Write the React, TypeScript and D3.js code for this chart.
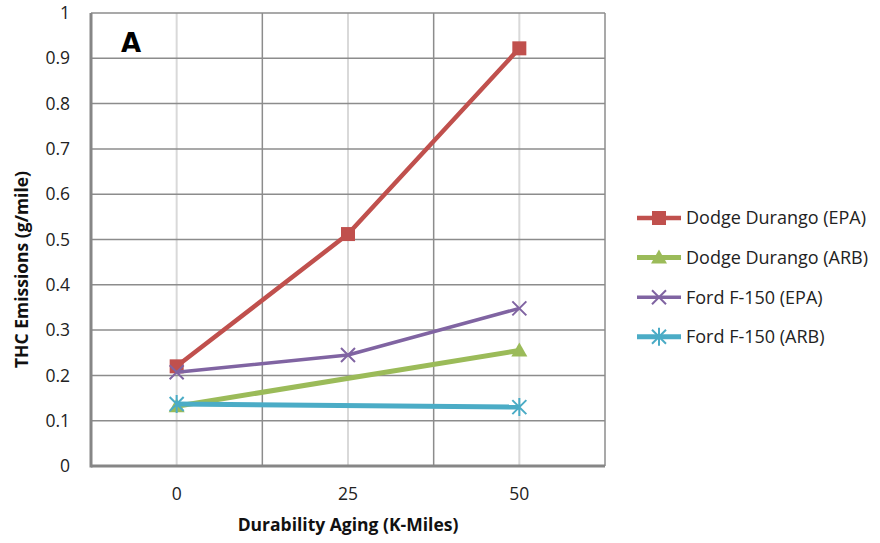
import React from "react";
import * as d3 from "d3";

const categories = ["0", "25", "50"];
const yTicks = [0, 0.1, 0.2, 0.3, 0.4, 0.5, 0.6, 0.7, 0.8, 0.9, 1];
const dodgeEPA: (number | null)[] = [0.22, 0.512, 0.922];
const dodgeARB: (number | null)[] = [0.132, null, 0.255];
const fordEPA: (number | null)[] = [0.207, 0.245, 0.348];
const fordARB: (number | null)[] = [0.137, null, 0.13];
const seriesNames = ["Dodge Durango (EPA)", "Dodge Durango (ARB)", "Ford F-150 (EPA)", "Ford F-150 (ARB)"];

const series = [
  { name: seriesNames[0], values: dodgeEPA, color: "#C0504D", width: 4.5, marker: "square" },
  { name: seriesNames[1], values: dodgeARB, color: "#9BBB59", width: 5, marker: "triangle" },
  { name: seriesNames[2], values: fordEPA, color: "#8064A2", width: 3.5, marker: "x" },
  { name: seriesNames[3], values: fordARB, color: "#4BACC6", width: 5, marker: "star" },
];

const left = 91, right = 605, top = 13, bottom = 466;
const font = "'Open Sans', 'Noto Sans', sans-serif";

function Marker({ type, x, y, color }: { type: string; x: number; y: number; color: string }) {
  if (type === "square") return <rect x={x - 7} y={y - 7} width={14} height={14} fill={color} />;
  if (type === "triangle")
    return <path d={`M${x},${y - 8}L${x + 8},${y + 6}L${x - 8},${y + 6}Z`} fill={color} />;
  if (type === "x")
    return (
      <path d={`M${x - 7},${y - 7}L${x + 7},${y + 7}M${x - 7},${y + 7}L${x + 7},${y - 7}`} stroke={color} strokeWidth={2} />
    );
  return (
    <path
      d={`M${x - 7},${y - 7}L${x + 7},${y + 7}M${x - 7},${y + 7}L${x + 7},${y - 7}M${x},${y - 9}L${x},${y + 9}`}
      stroke={color}
      strokeWidth={2}
    />
  );
}

export default function App() {
  const y = d3.scaleLinear().domain([0, 1]).range([bottom, top]);
  const xb = d3.scaleBand().domain(categories).range([left, right]);
  const xc = (c: string) => (xb(c) as number) + xb.bandwidth() / 2;
  const boundaries = [...categories.map((c) => xb(c) as number), right];

  return (
    <svg width={880} height={543} style={{ position: "absolute", left: 0, top: 0 }}>
      <rect width={880} height={543} fill="#fff" />
      {categories.map((c) => (
        <line key={"c" + c} x1={xc(c)} x2={xc(c)} y1={top} y2={bottom} stroke="#d9d9d9" strokeWidth={2} />
      ))}
      {boundaries.map((b, i) => (
        <line key={"b" + i} x1={b} x2={b} y1={top} y2={bottom} stroke="#8c8c8c" strokeWidth={1.5} />
      ))}
      {yTicks.map((t) => (
        <line key={"h" + t} x1={left} x2={right} y1={y(t)} y2={y(t)} stroke="#8c8c8c" strokeWidth={1.5} />
      ))}
      <line x1={left} x2={left} y1={top} y2={bottom + 1.5} stroke="#868686" strokeWidth={3} />
      <line x1={left} x2={right} y1={bottom} y2={bottom} stroke="#868686" strokeWidth={3} />
      {yTicks.map((t) => (
        <text key={"yl" + t} x={70} y={y(t)} dy="0.35em" textAnchor="end" fontFamily={font} fontSize={17.5} fill="#222">
          {d3.format("")(t)}
        </text>
      ))}
      {categories.map((c) => (
        <text key={"xl" + c} x={xc(c)} y={494} dy="0.35em" textAnchor="middle" fontFamily={font} fontSize={17.5} fill="#222">
          {c}
        </text>
      ))}
      <text
        transform={`translate(22,${(top + bottom) / 2 + 30}) rotate(-90)`}
        textAnchor="middle"
        dy="0.35em"
        fontFamily={font}
        fontWeight="bold"
        fontSize={17.5}
        fill="#111"
      >
        THC Emissions (g/mile)
      </text>
      <text x={(left + right) / 2} y={525} dy="0.35em" textAnchor="middle" fontFamily={font} fontWeight="bold" fontSize={17.5} fill="#111">
        Durability Aging (K-Miles)
      </text>
      <text x={131} y={43} dy="0.35em" textAnchor="middle" fontFamily="'DejaVu Sans', sans-serif" fontWeight="bold" fontSize={26} fill="#000">
        A
      </text>
      {series.map((s) => {
        const pts = s.values
          .map((v, i) => (v == null ? null : ([xc(categories[i]), y(v)] as [number, number])))
          .filter((p): p is [number, number] => p !== null);
        return (
          <g key={s.name}>
            <path d={d3.line()(pts) as string} fill="none" stroke={s.color} strokeWidth={s.width} strokeLinejoin="round" />
            {pts.map((p, i) => (
              <Marker key={i} type={s.marker} x={p[0]} y={p[1]} color={s.color} />
            ))}
          </g>
        );
      })}
      {series.map((s, i) => {
        const ly = 218 + i * 39.6;
        return (
          <g key={"lg" + s.name}>
            <line x1={637} x2={681} y1={ly} y2={ly} stroke={s.color} strokeWidth={s.width} />
            <Marker type={s.marker} x={659} y={ly} color={s.color} />
            <text x={686} y={ly} dy="0.35em" fontFamily={font} fontSize={18} fill="#222">
              {s.name}
            </text>
          </g>
        );
      })}
    </svg>
  );
}
